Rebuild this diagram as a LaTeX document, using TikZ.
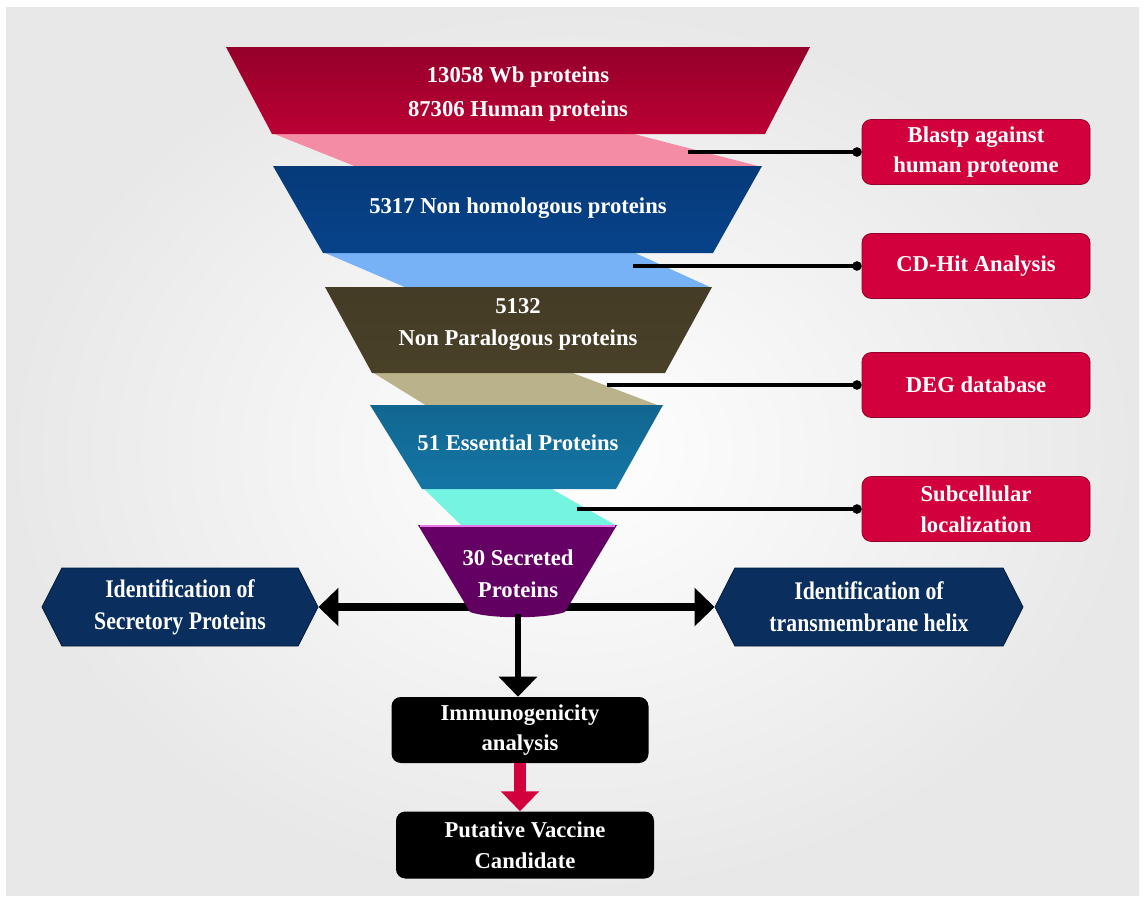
\documentclass[tikz,border=0pt]{standalone}
\usepackage{fontspec}
\setmainfont{Liberation Serif}
\newfontfamily\narrowserif{Liberation Serif}[FakeStretch=0.86]
\usepackage{tikz}
\usetikzlibrary{positioning, arrows.meta, shapes.symbols, calc}

\definecolor{wbred}{RGB}{212,0,60}
\definecolor{wbpink}{RGB}{244,140,166}
\definecolor{homblue}{RGB}{8,78,162}
\definecolor{homsky}{RGB}{120,178,246}
\definecolor{parolive}{RGB}{80,70,44}
\definecolor{partan}{RGB}{186,178,138}
\definecolor{essteal}{RGB}{22,128,180}
\definecolor{essaqua}{RGB}{118,244,226}
\definecolor{secpurple}{RGB}{114,0,114}
\definecolor{secrim}{RGB}{232,120,232}
\definecolor{toolred}{RGB}{210,0,60}
\definecolor{hexnavy}{RGB}{10,46,94}
\definecolor{panelgray}{RGB}{232,232,232}

\def\px{0.75pt}

\tikzset{
    funneltext/.style={text=white, align=center, inner sep=0pt,
        font=\fontsize{17}{24}\selectfont\bfseries},
    toolbox/.style={rectangle, rounded corners=7pt, fill=toolred,
        draw=toolred!70!black, line width=0.6pt, text=white, align=center,
        minimum width=228*\px, minimum height=65*\px,
        font=\fontsize{17}{23}\selectfont\bfseries},
    hexbox/.style={signal, signal to=west and east, signal pointer angle=126,
        fill=hexnavy, draw=hexnavy!60!black, line width=0.6pt, text=white,
        align=center, inner xsep=2pt, inner ysep=0pt,
        minimum height=78*\px,
        font=\narrowserif\fontsize{19}{24}\selectfont\bfseries},
    darkbox/.style={rectangle, rounded corners=7pt, fill=black, text=white,
        align=center, font=\fontsize{17}{23}\selectfont\bfseries},
    feeder/.style={line width=2.8pt, -{Circle[length=7pt]}},
    spread/.style={line width=6pt, -{Triangle[length=15pt, width=28pt]}},
}

\begin{document}
\begin{tikzpicture}[x=0.75pt, y=-0.75pt]
        % background panel
        \fill[white] (0,0) rectangle (1144,900);
        \shade[inner color=white, outer color=panelgray] (6,7) rectangle (1139,895);
        \useasboundingbox (0,0) rectangle (1144,900);

        % hub behind the last funnel piece
        \coordinate (hub) at (518,607);
        \coordinate (purpbot) at (518,614);

        \node[hexbox, minimum width=276*\px] (secretory) at (180,607)
            {Identification of\\Secretory Proteins};
        \node[hexbox, minimum width=308*\px] (tmhelix) at (869,607)
            {Identification of\\transmembrane helix};

        \draw[spread] (hub) -- (secretory.east);
        \draw[spread] (hub) -- (tmhelix.west);

        % connecting bands
        \fill[wbpink]   (272,133) -- (630,133) -- (762,167) -- (357,167) -- cycle;
        \fill[homsky]   (323,252) -- (633,252) -- (712,288) -- (407,288) -- cycle;
        \fill[partan]   (372,372) -- (570,372) -- (660,406) -- (427,406) -- cycle;
        \fill[essaqua]  (423,488) -- (550,488) -- (617,526) -- (462,526) -- cycle;

        % funnel pieces
        \shade[top color=wbred!70!black, middle color=wbred, bottom color=wbred!88!black]
            (226,47) -- (810,47) -- (765,134) -- (272,134) -- cycle;
        \shade[top color=homblue!75!black, middle color=homblue, bottom color=homblue!85!black]
            (273,166) -- (762,166) -- (713,253) -- (323,253) -- cycle;
        \shade[top color=parolive!85!black, middle color=parolive, bottom color=parolive!92!black]
            (325,287) -- (712,287) -- (665,373) -- (372,373) -- cycle;
        \shade[top color=essteal!80!black, middle color=essteal, bottom color=essteal!92!black]
            (370,405) -- (663,405) -- (616,489) -- (422,489) -- cycle;
        \shade[top color=secpurple!90!black, middle color=secpurple, bottom color=secpurple!85!black]
            (418,525) -- (617,525) -- (565,612)
            .. controls (545,619) and (490,619) .. (470,612) -- cycle;
        \draw[secrim, line width=2pt] (420,526) -- (615,526);

        \node[funneltext] (wb) at (518,94) {13058 Wb proteins\\[2pt]87306 Human proteins};
        \node[funneltext] (nonhom) at (518,208) {5317 Non homologous proteins};
        \node[funneltext] (nonpar) at (518,324) {5132\\Non Paralogous proteins};
        \node[funneltext] (essential) at (518,443) {51 Essential Proteins};
        \node[funneltext] (secreted) at (518,574) {30 Secreted\\Proteins};

        % filter tools on the right
        \node[toolbox] (blastp) at (976,152) {Blastp against\\human proteome};
        \node[toolbox] (cdhit) at (976,266) {CD-Hit Analysis};
        \node[toolbox] (deg) at (976,385) {DEG database};
        \node[toolbox] (subcell) at (976,509) {Subcellular\\localization};

        \coordinate (band1) at (688,152);
        \coordinate (band2) at (633,266);
        \coordinate (band3) at (607,385);
        \coordinate (band4) at (577,509);

        \draw[feeder] (band1) -- (blastp.west);
        \draw[feeder] (band2) -- (cdhit.west);
        \draw[feeder] (band3) -- (deg.west);
        \draw[feeder] (band4) -- (subcell.west);

        % final steps
        \node[darkbox, minimum width=257*\px, minimum height=66*\px] (immuno) at (520,730)
            {Immunogenicity\\analysis};
        \node[darkbox, minimum width=258*\px, minimum height=67*\px] (putative) at (525,845)
            {Putative Vaccine\\Candidate};

        \draw[line width=4pt, -{Triangle[length=15pt, width=28pt]}]
            (purpbot) -- (purpbot |- immuno.north);
        \draw[toolred, line width=9pt, -{Triangle[length=15pt, width=28pt]}]
            (immuno.south) -- (immuno.south |- putative.north);
    \end{tikzpicture}
\end{document}
